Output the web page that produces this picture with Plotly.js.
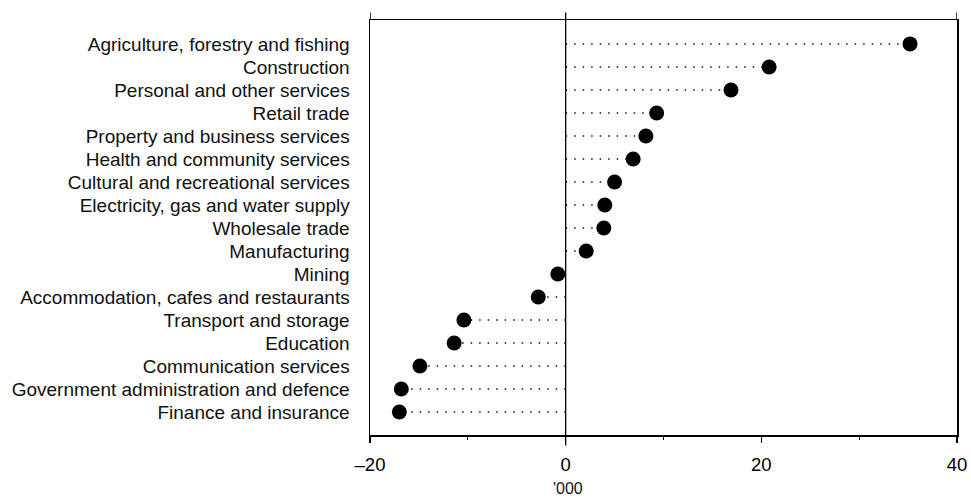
<!DOCTYPE html>
<html>
<head>
<meta charset="utf-8">
<script src="https://cdn.plot.ly/plotly-3.0.1.min.js"></script>
<style>html,body{margin:0;padding:0;background:#fff;}#chart{width:971px;height:499px;}</style>
</head>
<body>
<div id="chart"></div>
<script>
const industries = [
  "Agriculture, forestry and fishing",
  "Construction",
  "Personal and other services",
  "Retail trade",
  "Property and business services",
  "Health and community services",
  "Cultural and recreational services",
  "Electricity, gas and water supply",
  "Wholesale trade",
  "Manufacturing",
  "Mining",
  "Accommodation, cafes and restaurants",
  "Transport and storage",
  "Education",
  "Communication services",
  "Government administration and defence",
  "Finance and insurance"
];
const change = [35.2, 20.8, 16.9, 9.3, 8.2, 6.9, 5.0, 4.0, 3.9, 2.1, -0.8, -2.8, -10.4, -11.4, -14.9, -16.8, -17.0];
const xTickVals = [-20, 0, 20, 40];
const xTickText = ["\u201320", "0", "20", "40"];

const lineX = [], lineY = [];
industries.forEach((name, i) => {
  lineX.push(0, change[i], null);
  lineY.push(name, name, null);
});

const font = "'Liberation Sans', Arial, Helvetica, sans-serif";

const traces = [
  {
    type: 'scatter', mode: 'lines', x: lineX, y: lineY,
    line: {color: '#111', width: 1.5, dash: '1.5px,7px'},
    hoverinfo: 'skip', showlegend: false
  },
  {
    type: 'scatter', mode: 'markers', x: change, y: industries,
    marker: {color: '#000', size: 15},
    showlegend: false
  }
];

const layout = {
  width: 971, height: 499,
  margin: {l: 370, r: 14, t: 20, b: 64},
  paper_bgcolor: '#fff', plot_bgcolor: '#fff',
  font: {family: font, color: '#111'},
  xaxis: {
    range: [-20, 40], tickvals: xTickVals, ticktext: xTickText,
    showgrid: false, zeroline: false,
    showline: true, mirror: true, linecolor: '#000', linewidth: 1.5,
    ticks: 'outside', ticklen: 6, tickcolor: '#000', tickwidth: 1.2,
    minor: {tickvals: [-10, 10, 30], ticks: 'outside', ticklen: 3, tickcolor: '#000', tickwidth: 1},
    tickfont: {size: 18.5, family: font, color: '#000'},
    ticklabelstandoff: 6
  },
  yaxis: {
    type: 'category', categoryorder: 'array', categoryarray: industries,
    range: [17.0, -1.04],
    showgrid: false, zeroline: false,
    showline: true, mirror: true, linecolor: '#000', linewidth: 1.5,
    ticks: '', tickfont: {size: 19, family: font, color: '#111'},
    ticklabelstandoff: 15
  },
  shapes: [
    {type: 'line', xref: 'x', yref: 'paper', x0: 0, x1: 0, y0: -0.025, y1: 1.018, line: {color: '#000', width: 1.3}},
    {type: 'line', xref: 'x', yref: 'paper', x0: -20, x1: -20, y0: 1, y1: 1.018, line: {color: '#000', width: 1.5}},
    {type: 'line', xref: 'x', yref: 'paper', x0: 40, x1: 40, y0: 1, y1: 1.018, line: {color: '#000', width: 1.5}}
  ],
  annotations: [
    {xref: 'x', yref: 'paper', x: 0.2, y: -0.13, yanchor: 'middle', xanchor: 'center', showarrow: false,
     text: "'000", font: {size: 16, family: font, color: '#111'}}
  ]
};

Plotly.newPlot('chart', traces, layout, {displayModeBar: false, staticPlot: true});
</script>
</body>
</html>
